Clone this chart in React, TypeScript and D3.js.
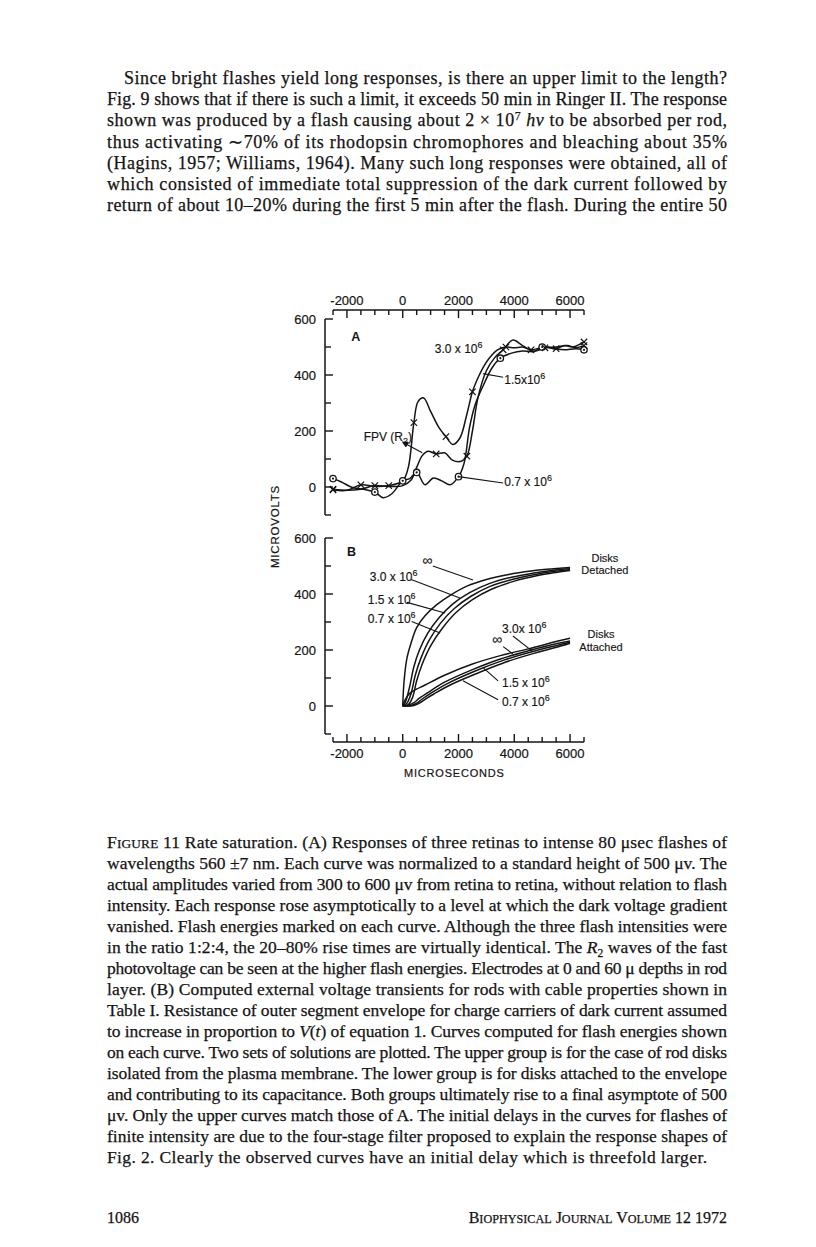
import React, { useEffect, useRef } from "react";
import * as d3 from "d3";

// ---- axes ----
const xTickValues = [-2500, -2000, -1500, -1000, -500, 0, 500, 1000, 1500, 2000, 2500, 3000, 3500, 4000, 4500, 5000, 5500, 6000, 6500];
const xTickLabels = [-2000, 0, 2000, 4000, 6000];
const yTickValues = [-100, 0, 100, 200, 300, 400, 500, 600];
const yTickLabels = [0, 200, 400, 600];

// ---- panel A: measured responses (microseconds, microvolts) ----
const a07X = [-2500, -2200, -1800, -1400, -1000, -700, -400, 0, 250, 500, 800, 1100, 1400, 1700, 2000, 2200, 2400, 2600, 2900, 3200, 3500, 3900, 4300, 4700, 5000, 5400, 5800, 6200, 6500];
const a07Y = [30, 18, -2, -8, -18, -38, -25, 22, 30, 52, 8, 32, 22, 8, 37, 85, 215, 295, 365, 425, 460, 478, 486, 484, 500, 494, 490, 494, 490];
const a07Marks = [0, 4, 7, 9, 14, 20, 24, 28];

const a15X = [-2500, -2000, -1500, -1000, -500, 0, 300, 500, 700, 900, 1200, 1500, 1800, 2100, 2300, 2500, 2700, 3000, 3300, 3600, 3950, 4300, 4700, 5100, 5500, 5900, 6200, 6500];
const a15Y = [-8, -12, -8, 5, 2, 5, 25, 70, 112, 128, 118, 122, 95, 92, 110, 200, 320, 415, 462, 490, 525, 505, 485, 497, 500, 505, 498, 505];
const a15Marks = [0, 3, 10, 14, 19, 23, 27];

const a30X = [-2500, -2000, -1500, -1000, -500, 0, 200, 400, 550, 750, 1000, 1300, 1550, 1800, 2050, 2300, 2500, 2700, 2900, 3100, 3400, 3700, 4000, 4300, 4600, 4900, 5200, 5500, 5800, 6100, 6500];
const a30Y = [-10, -12, 8, 2, 5, 22, 70, 230, 305, 318, 270, 212, 180, 152, 175, 260, 340, 390, 430, 460, 490, 500, 497, 500, 490, 496, 500, 494, 505, 500, 518];
const a30Marks = [0, 2, 4, 7, 12, 16, 21, 24, 27, 30];

// ---- panel B: computed transients, disks detached ----
const dInfX = [0, 50, 150, 300, 500, 800, 1200, 1700, 2300, 3000, 3800, 4600, 5400, 6000];
const dInfY = [0, 90, 170, 225, 280, 322, 360, 395, 428, 452, 470, 482, 490, 495];
const d30X = [0, 100, 250, 400, 600, 900, 1300, 1800, 2400, 3100, 3900, 4700, 5400, 6000];
const d30Y = [0, 15, 70, 140, 200, 260, 315, 365, 405, 437, 460, 475, 485, 490];
const d15X = [0, 150, 300, 450, 650, 950, 1350, 1850, 2450, 3150, 3950, 4750, 5450, 6000];
const d15Y = [0, 10, 45, 110, 170, 235, 295, 348, 392, 428, 453, 470, 481, 487];
const d07X = [0, 200, 350, 500, 700, 1000, 1400, 1900, 2500, 3200, 4000, 4800, 5500, 6000];
const d07Y = [0, 5, 30, 90, 150, 215, 275, 333, 380, 418, 446, 465, 477, 484];

// ---- panel B: disks attached ----
const tInfX = [0, 100, 250, 400, 800, 1500, 2500, 3500, 4500, 5500, 6000];
const tInfY = [0, 25, 45, 55, 75, 110, 150, 180, 204, 230, 242];
const t30X = [0, 200, 400, 600, 900, 1500, 2500, 3500, 4500, 5500, 6000];
const t30Y = [0, 3, 12, 28, 48, 85, 130, 168, 197, 222, 232];
const t15X = [0, 300, 500, 700, 1000, 1600, 2600, 3600, 4600, 5600, 6000];
const t15Y = [0, 2, 10, 25, 45, 80, 125, 163, 193, 218, 228];
const t07X = [0, 400, 600, 800, 1100, 1700, 2700, 3700, 4700, 5700, 6000];
const t07Y = [0, 2, 10, 24, 42, 75, 118, 157, 188, 215, 224];

// ---- text of the page ----
const bodyLines = [
  "Since bright flashes yield long responses, is there an upper limit to the length?",
  "Fig. 9 shows that if there is such a limit, it exceeds 50 min in Ringer II. The response",
  "shown was produced by a flash causing about 2 × 10^{7} *hν* to be absorbed per rod,",
  "thus activating ∼70% of its rhodopsin chromophores and bleaching about 35%",
  "(Hagins, 1957; Williams, 1964). Many such long responses were obtained, all of",
  "which consisted of immediate total suppression of the dark current followed by",
  "return of about 10–20% during the first 5 min after the flash. During the entire 50",
];

const captionLines = [
  "F~{IGURE} 11  Rate saturation. (A) Responses of three retinas to intense 80 μsec flashes of",
  "wavelengths 560 ±7 nm. Each curve was normalized to a standard height of 500 μv. The",
  "actual amplitudes varied from 300 to 600 μv from retina to retina, without relation to flash",
  "intensity. Each response rose asymptotically to a level at which the dark voltage gradient",
  "vanished. Flash energies marked on each curve. Although the three flash intensities were",
  "in the ratio 1:2:4, the 20–80% rise times are virtually identical. The *R*_{2} waves of the fast",
  "photovoltage can be seen at the higher flash energies. Electrodes at 0 and 60 μ depths in rod",
  "layer. (B) Computed external voltage transients for rods with cable properties shown in",
  "Table I. Resistance of outer segment envelope for charge carriers of dark current assumed",
  "to increase in proportion to *V*(*t*) of equation 1. Curves computed for flash energies shown",
  "on each curve. Two sets of solutions are plotted. The upper group is for the case of rod disks",
  "isolated from the plasma membrane. The lower group is for disks attached to the envelope",
  "and contributing to its capacitance. Both groups ultimately rise to a final asymptote of 500",
  "μv. Only the upper curves match those of A. The initial delays in the curves for flashes of",
  "finite intensity are due to the four-stage filter proposed to explain the response shapes of",
  "Fig. 2. Clearly the observed curves have an initial delay which is threefold larger.",
];

const pageNumber = "1086";
const runningFoot = "B~{IOPHYSICAL} J~{OURNAL} V~{OLUME} 12 1972";

const SERIF = "'Liberation Serif', 'Times New Roman', serif";
const SANS = "'Liberation Sans', Arial, sans-serif";
const INK = "#141414";

function richSpans(s: string, size: number) {
  const parts = s.split(/(\*[^*]+\*|_\{[^}]+\}|\^\{[^}]+\}|~\{[^}]+\})/).filter((p) => p !== "");
  let off = 0;
  return parts.map((p, k) => {
    let content = p;
    let dy = 0;
    const props: any = {};
    if (p.startsWith("_{")) {
      content = p.slice(2, -1);
      dy = size * 0.25 - off;
      off = size * 0.25;
      props.fontSize = size * 0.66;
    } else if (p.startsWith("^{")) {
      content = p.slice(2, -1);
      dy = -size * 0.38 - off;
      off = -size * 0.38;
      props.fontSize = size * 0.66;
    } else {
      dy = -off;
      off = 0;
      if (p.startsWith("*")) {
        content = p.slice(1, -1);
        props.fontStyle = "italic";
      } else if (p.startsWith("~{")) {
        content = p.slice(2, -1);
        props.fontSize = size * 0.76;
      }
    }
    return (
      <tspan key={k} dy={dy !== 0 ? dy : undefined} {...props}>
        {content}
      </tspan>
    );
  });
}

function TextLine({ s, x, y, width, size, anchor }: any) {
  return (
    <text
      x={x}
      y={y}
      fontFamily={SERIF}
      fontSize={size}
      fill={INK}
      stroke={INK}
      strokeWidth={0.25}
      textAnchor={anchor || "start"}
      textLength={width}
      lengthAdjust="spacing"
    >
      {richSpans(s, size)}
    </text>
  );
}

function Chart() {
  const ref = useRef<SVGGElement>(null);

  useEffect(() => {
    const g = d3.select(ref.current);
    g.selectAll("*").remove();

    const x = d3.scaleLinear().domain([-2500, 6500]).range([333, 584]);
    const yA = d3.scaleLinear().domain([-100, 600]).range([515, 319]);
    const yB = d3.scaleLinear().domain([-100, 600]).range([734, 538]);
    const axisX = 325;
    const topY = 310;
    const botY = 742;

    const stroke = (sel: any, w = 1.4) =>
      sel.attr("stroke", INK).attr("stroke-width", w).attr("fill", "none");

    const sansText = (sel: any, size: number) =>
      sel
        .attr("font-family", SANS)
        .attr("font-size", size)
        .attr("fill", INK)
        .attr("stroke", INK)
        .attr("stroke-width", 0.2);

    // top axis
    stroke(g.append("line").attr("x1", x(-2500)).attr("x2", x(6500)).attr("y1", topY).attr("y2", topY), 1.5);
    g.selectAll(".tt")
      .data(xTickValues)
      .enter()
      .append("line")
      .attr("x1", (d) => x(d))
      .attr("x2", (d) => x(d))
      .attr("y1", topY)
      .attr("y2", (d) => topY + (xTickLabels.includes(d) ? 8 : 5))
      .attr("stroke", INK)
      .attr("stroke-width", 1.4);
    sansText(
      g.selectAll(".tl")
        .data(xTickLabels)
        .enter()
        .append("text")
        .attr("x", (d) => x(d))
        .attr("y", topY - 5)
        .attr("text-anchor", "middle"),
      13
    ).text((d) => (d < 0 ? "-" + Math.abs(d) : String(d)));

    // bottom axis
    stroke(g.append("line").attr("x1", x(-2500)).attr("x2", x(6500)).attr("y1", botY).attr("y2", botY), 1.5);
    g.selectAll(".bt")
      .data(xTickValues)
      .enter()
      .append("line")
      .attr("x1", (d) => x(d))
      .attr("x2", (d) => x(d))
      .attr("y1", botY)
      .attr("y2", (d) => botY - (xTickLabels.includes(d) ? 8 : 5))
      .attr("stroke", INK)
      .attr("stroke-width", 1.4);
    sansText(
      g.selectAll(".bl")
        .data(xTickLabels)
        .enter()
        .append("text")
        .attr("x", (d) => x(d))
        .attr("y", botY + 16)
        .attr("text-anchor", "middle"),
      13
    ).text((d) => (d < 0 ? "-" + Math.abs(d) : String(d)));
    sansText(
      g.append("text")
        .attr("x", x(1850))
        .attr("y", botY + 35)
        .attr("text-anchor", "middle")
        .attr("letter-spacing", 0.8),
      11
    ).text("MICROSECONDS");

    // left axes, one per panel
    [yA, yB].forEach((y) => {
      stroke(g.append("line").attr("x1", axisX).attr("x2", axisX).attr("y1", y(600)).attr("y2", y(-100)), 1.5);
      g.append("g")
        .selectAll("line")
        .data(yTickValues)
        .enter()
        .append("line")
        .attr("x1", axisX)
        .attr("x2", (d) => axisX + (yTickLabels.includes(d) ? 8 : 6))
        .attr("y1", (d) => y(d))
        .attr("y2", (d) => y(d))
        .attr("stroke", INK)
        .attr("stroke-width", 1.4);
      sansText(
        g.append("g")
          .selectAll("text")
          .data(yTickLabels)
          .enter()
          .append("text")
          .attr("x", axisX - 9)
          .attr("y", (d) => y(d) + 4.7)
          .attr("text-anchor", "end"),
        13
      ).text((d) => String(d));
    });
    sansText(
      g.append("text")
        .attr("transform", `translate(${279},${(yA(-100) + yB(600)) / 2}) rotate(-90)`)
        .attr("text-anchor", "middle")
        .attr("letter-spacing", 0.8),
      11.5
    ).text("MICROVOLTS");

    const panelLetter = (t: string, px: number, py: number) =>
      g.append("text")
        .attr("x", px)
        .attr("y", py)
        .attr("font-family", SANS)
        .attr("font-size", 12.5)
        .attr("font-weight", "bold")
        .attr("fill", INK)
        .text(t);
    panelLetter("A", x(-1850), yA(520));
    panelLetter("B", x(-2000), yB(535));

    const drawCurve = (xs: number[], ys: number[], y: any, w = 1.5) => {
      const pts = xs.map((v, i) => [v, ys[i]] as [number, number]);
      const line = d3
        .line<[number, number]>()
        .x((d) => x(d[0]))
        .y((d) => y(d[1]))
        .curve(d3.curveCatmullRom.alpha(0.5));
      stroke(g.append("path").attr("d", line(pts)), w);
    };

    // panel A curves
    drawCurve(a07X, a07Y, yA);
    drawCurve(a15X, a15Y, yA);
    drawCurve(a30X, a30Y, yA);

    a07Marks.forEach((i) => {
      g.append("circle")
        .attr("cx", x(a07X[i]))
        .attr("cy", yA(a07Y[i]))
        .attr("r", 3.2)
        .attr("fill", "#fff")
        .attr("stroke", INK)
        .attr("stroke-width", 1.3);
      g.append("circle").attr("cx", x(a07X[i])).attr("cy", yA(a07Y[i])).attr("r", 1.1).attr("fill", INK);
    });
    const cross = (xs: number[], ys: number[], idx: number[]) =>
      idx.forEach((i) => {
        const cx = x(xs[i]);
        const cy = yA(ys[i]);
        const s = 3.2;
        g.append("path")
          .attr("d", `M${cx - s},${cy - s}L${cx + s},${cy + s}M${cx - s},${cy + s}L${cx + s},${cy - s}`)
          .attr("stroke", INK)
          .attr("stroke-width", 1.2);
      });
    cross(a15X, a15Y, a15Marks);
    cross(a30X, a30Y, a30Marks);

    // panel B curves
    [
      [dInfX, dInfY],
      [d30X, d30Y],
      [d15X, d15Y],
      [d07X, d07Y],
      [tInfX, tInfY],
      [t30X, t30Y],
      [t15X, t15Y],
      [t07X, t07Y],
    ].forEach(([xs, ys]) => drawCurve(xs, ys, yB, 1.5));

    // annotations (label position and leader line in data units)
    const label = (
      y: any,
      lx: number,
      ly: number,
      main: string,
      sup: string,
      anchor = "start",
      leader?: [number, number, number, number],
      size = 12
    ) => {
      const t = sansText(
        g.append("text").attr("x", x(lx)).attr("y", y(ly)).attr("text-anchor", anchor),
        size
      ).attr("stroke-width", 0.15);
      t.append("tspan").text(main);
      if (sup) t.append("tspan").attr("dy", -5).attr("font-size", 9).text(sup);
      if (leader)
        stroke(
          g.append("line")
            .attr("x1", x(leader[0]))
            .attr("y1", y(leader[1]))
            .attr("x2", x(leader[2]))
            .attr("y2", y(leader[3])),
          1.1
        );
    };

    label(yA, 1150, 478, "3.0 x 10", "6");
    label(yA, 3640, 368, "1.5x10", "6", "start", [3600, 392, 2880, 405]);
    label(yA, 3640, 4, "0.7 x 10", "6", "start", [3600, 14, 2000, 37]);

    // FPV (R2) label with arrow
    const fpv = sansText(g.append("text").attr("x", x(-1400)).attr("y", yA(164)), 12).attr("stroke-width", 0.15);
    fpv.append("tspan").text("FPV (R");
    fpv.append("tspan").attr("dy", 3).attr("font-size", 9).text("2");
    fpv.append("tspan").attr("dy", -3).text(")");
    stroke(
      g.append("line")
        .attr("x1", x(150))
        .attr("y1", yA(152))
        .attr("x2", x(700))
        .attr("y2", yA(122))
        .attr("marker-start", "url(#arrowhead)"),
      1.1
    );

    // panel B, disks detached
    label(yB, 700, 505, "∞", "", "start", [1080, 500, 2520, 450], 14);
    label(yB, -1180, 446, "3.0 x 10", "6", "start", [300, 452, 2050, 386]);
    label(yB, -1250, 364, "1.5 x 10", "6", "start", [150, 370, 1520, 332]);
    label(yB, -1250, 296, "0.7 x 10", "6", "start", [320, 302, 1340, 261]);
    label(yB, 7250, 516, "Disks", "", "middle", undefined, 11);
    label(yB, 7250, 470, "Detached", "", "middle", undefined, 11);

    // panel B, disks attached
    label(yB, 3560, 262, "3.0x 10", "6", "start", [3950, 250, 4670, 194]);
    label(yB, 3200, 222, "∞", "", "start", [3600, 212, 3950, 186], 14);
    label(yB, 3560, 67, "1.5 x 10", "6", "start", [3420, 90, 2880, 137]);
    label(yB, 3560, 0, "0.7 x 10", "6", "start", [3420, 22, 2160, 90]);
    label(yB, 7110, 243, "Disks", "", "middle", undefined, 11);
    label(yB, 7110, 197, "Attached", "", "middle", undefined, 11);
  }, []);

  return <g ref={ref} />;
}

export default function App() {
  const W = 816;
  const H = 1247;
  const left = 107;
  const right = 727;
  const bodyTop = 84;
  const bodyStep = 21.2;
  const capTop = 848;
  const capStep = 21;

  return (
    <svg
      width={W}
      height={H}
      viewBox={`0 0 ${W} ${H}`}
      style={{ position: "absolute", left: 0, top: 0, background: "#fff" }}
    >
      <defs>
        <marker id="arrowhead" viewBox="0 0 10 10" refX="1" refY="5" markerWidth="6" markerHeight="6" orient="auto-start-reverse">
          <path d="M0,0L10,5L0,10z" fill={INK} />
        </marker>
      </defs>
      <rect x={0} y={0} width={W} height={H} fill="#fff" />

      {bodyLines.map((s, i) => {
        const x0 = i === 0 ? left + 17 : left;
        return <TextLine key={"b" + i} s={s} x={x0} y={bodyTop + i * bodyStep} width={right - x0} size={18} />;
      })}

      <Chart />

      {captionLines.map((s, i) => (
        <TextLine
          key={"c" + i}
          s={s}
          x={left}
          y={capTop + i * capStep}
          width={i < captionLines.length - 1 ? right - left : 600}
          size={17.5}
        />
      ))}

      <TextLine s={pageNumber} x={left} y={1223} size={16} />
      <TextLine s={runningFoot} x={right} y={1223} size={16} anchor="end" />
    </svg>
  );
}
